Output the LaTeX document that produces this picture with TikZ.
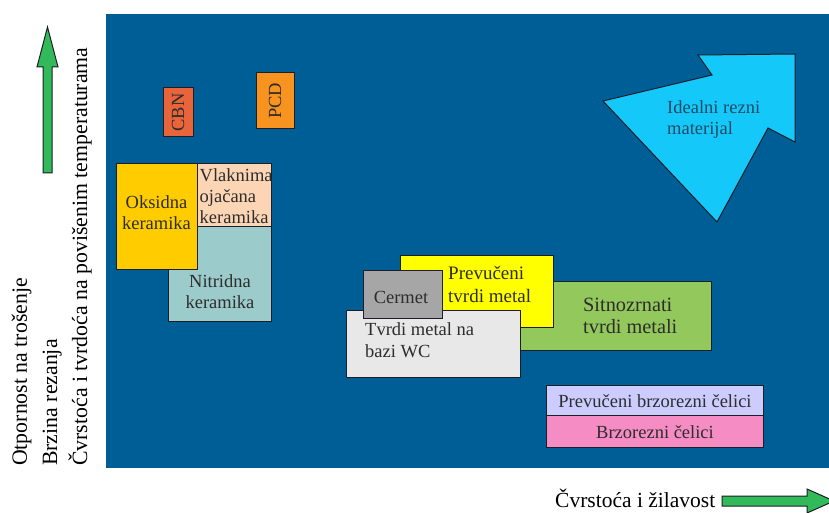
\documentclass[tikz,border=0pt]{standalone}
\usepackage{fontspec}
\setmainfont{Liberation Serif}
\newfontfamily\tnr{Liberation Serif}
\definecolor{bgblue}{RGB}{0,94,150}
\definecolor{edgec}{RGB}{30,30,40}
\definecolor{txtc}{RGB}{45,45,45}
\definecolor{cbnc}{RGB}{232,100,58}
\definecolor{pcdc}{RGB}{247,147,30}
\definecolor{oksc}{RGB}{255,204,0}
\definecolor{vlac}{RGB}{252,213,181}
\definecolor{nitc}{RGB}{156,203,204}
\definecolor{prvc}{RGB}{255,255,0}
\definecolor{sitc}{RGB}{146,200,92}
\definecolor{cerc}{RGB}{166,166,166}
\definecolor{tvrc}{RGB}{232,232,232}
\definecolor{pbcc}{RGB}{204,204,255}
\definecolor{bcc}{RGB}{245,140,196}
\definecolor{idc}{RGB}{20,200,250}
\definecolor{idtxt}{RGB}{30,75,100}
\definecolor{arrg}{RGB}{50,185,90}
\begin{document}
\begin{tikzpicture}[x=1pt,y=-1pt,
  box/.style={draw=edgec, line width=1pt, inner sep=0pt, outer sep=0pt, anchor=north west},
  lbl/.style={text=txtc, font=\tnr\fontsize{18.5}{21}\selectfont, inner sep=0pt},
  side/.style={text=black, font=\tnr\fontsize{21.8}{24}\selectfont, inner sep=0pt, rotate=90, anchor=base west},
  garrow/.style={fill=arrg, draw=edgec, line width=1pt, line join=miter}]
\useasboundingbox (0,0) rectangle (829,513);
\fill[white] (0,0) rectangle (829,513);
\fill[bgblue] (106,14) rectangle (829,468);
% left axis texts
\node[side] (t1) at (27,466) {Otpornost na trošenje};
\node[side] (t2) at (57,466) {Brzina rezanja};
\node[side] (t3) at (87,466) {Čvrstoća i tvrdoća na povišenim temperaturama};
% vertical arrow
\draw[garrow] (43,173) -- (43,67) -- (37,67) -- (47.5,27) -- (58,67) -- (52,67) -- (52,173) -- cycle;
% bottom axis
\node[text=black, font=\tnr\fontsize{21.5}{24}\selectfont, inner sep=0pt, anchor=base west] (t4) at (555,507) {Čvrstoća i žilavost};
\draw[garrow] (722,496) -- (807,496) -- (807,489) -- (834,501) -- (807,513) -- (807,506) -- (722,506) -- cycle;
% CBN, PCD
\node[box, fill=cbnc, minimum width=30pt, minimum height=49pt] (cbn) at (163,88) {};
\node[lbl, rotate=90] (cbnt) at (cbn.center) {CBN};
\node[box, fill=pcdc, minimum width=38pt, minimum height=56pt] (pcd) at (256,73) {};
\node[lbl, rotate=90] (pcdt) at (pcd.center) {PCD};
% ceramics
\node[box, fill=nitc, minimum width=103pt, minimum height=95pt] (nit) at (168,226) {};
\node[box, fill=vlac, minimum width=74pt, minimum height=62pt] (vla) at (197,164) {};
\node[box, fill=oksc, minimum width=81pt, minimum height=105pt] (oks) at (116,164) {};
\node[lbl, align=center] (okst) at (156.5,212.7) {Oksidna\\keramika};
\node[lbl, align=left, anchor=west] (vlat) at (199.5,196.2) {Vlaknima\\ojačana\\keramika};
\node[lbl, align=center] (nitt) at (220,291.2) {Nitridna\\keramika};
% hard metals
\node[box, fill=sitc, minimum width=191pt, minimum height=69pt] (sit) at (520,281) {};
\node[box, fill=prvc, minimum width=153pt, minimum height=72pt] (prv) at (400,255) {};
\node[box, fill=tvrc, minimum width=174pt, minimum height=67pt] (tvr) at (346,310) {};
\node[box, fill=cerc, minimum width=79pt, minimum height=48pt] (cer) at (363,270) {};
\node[lbl, align=left, anchor=west, font=\tnr\fontsize{19}{23}\selectfont] (prvt) at (448,284) {Prevučeni\\tvrdi metal};
\node[lbl, align=left, anchor=west, font=\tnr\fontsize{20.3}{21.5}\selectfont] (sitt) at (583,316) {Sitnozrnati\\tvrdi metali};
\node[lbl, align=left, anchor=west, font=\tnr\fontsize{18.5}{22}\selectfont] (tvrt) at (365,340.5) {Tvrdi metal na\\bazi WC};
\node[lbl, anchor=base] (cert) at (401,303) {Cermet};
% steels
\node[box, fill=pbcc, minimum width=217pt, minimum height=30pt] (pbc) at (546,385) {};
\node[box, fill=bcc, minimum width=217pt, minimum height=32pt] (bc) at (546,415) {};
\node[lbl, anchor=base] (pbct) at (655,407) {Prevučeni brzorezni čelici};
\node[lbl, anchor=base] (bct) at (655,438) {Brzorezni čelici};
% ideal arrow
\draw[fill=idc, draw=edgec, line width=1pt, line join=miter] (603,101) -- (712,75) -- (698,55) -- (795,54) -- (795,142) -- (768,128) -- (717,222) -- cycle;
\node[lbl, text=idtxt, align=left, anchor=west] (idt) at (667,119.5) {Idealni rezni\\materijal};
\end{tikzpicture}
\end{document}
